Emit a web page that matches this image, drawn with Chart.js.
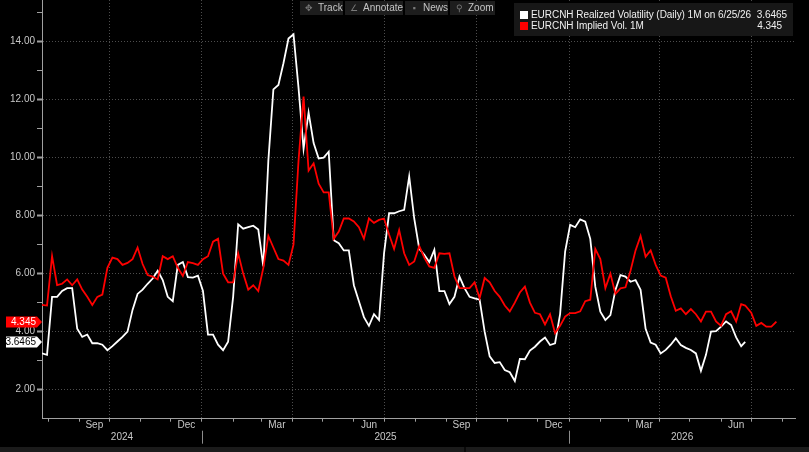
<!DOCTYPE html>
<html>
<head>
<meta charset="utf-8">
<title>EURCNH Volatility</title>
<script src="https://cdn.jsdelivr.net/npm/chart.js@4.4.1/dist/chart.umd.min.js"></script>
<style>
    html, body { margin: 0; padding: 0; background: #000; }
    #wrap { position: relative; width: 809px; height: 452px; overflow: hidden; background: #000;
            font-family: "Liberation Sans", Arial, sans-serif; }
    #volChart { position: absolute; left: 0; top: 0; }
    .btn { position: absolute; top: 1px; height: 14px; background: #1d1d1d; color: #c4c4c4;
           font-size: 10px; line-height: 14px; white-space: nowrap; }
    .btn i { font-style: normal; color: #7a7a7a; font-size: 9px; display: inline-block; width: 14px; text-align: center; margin: 0 2px 0 2px; }
    #legend { position: absolute; left: 514px; top: 3px; width: 279px; height: 33px; background: #171717;
              color: #f0f0f0; font-size: 10px; letter-spacing: -0.05px; }
    #legend .row { position: absolute; left: 0; right: 0; height: 11px; line-height: 11px; white-space: nowrap; }
    #legend .sq { position: absolute; left: 6px; top: 1.5px; width: 8px; height: 8px; }
    #legend .name { position: absolute; left: 17px; }
    #legend .val { position: absolute; }
    #scrollBar { position: absolute; left: 0; top: 447px; width: 809px; height: 5px; background: #1b1b1b; }
    #scrollBar div { position: absolute; left: 464px; top: 0; width: 2px; height: 5px; background: #0a0a0a; }
</style>
</head>
<body>
<div id="wrap">
    <canvas id="volChart" width="809" height="452"></canvas>
    <span class="btn" style="left:300px;width:43px"><i>✥</i>Track</span>
    <span class="btn" style="left:345px;width:58px"><i>∠</i>Annotate</span>
    <span class="btn" style="left:405px;width:43px"><i>▪</i>News</span>
    <span class="btn" style="left:450px;width:45px"><i>⚲</i>Zoom</span>
    <div id="legend"></div>
    <div id="scrollBar"><div></div></div>
</div>
<script>
// Stichtage (alle 5 Tage), letzter Wert der realisierten Vol am 25.06.2026
const dates = [
    "2024-07-26","2024-07-31","2024-08-05","2024-08-10","2024-08-15","2024-08-20","2024-08-25","2024-08-30",
    "2024-09-04","2024-09-09","2024-09-14","2024-09-19","2024-09-24","2024-09-29",
    "2024-10-04","2024-10-09","2024-10-14","2024-10-19","2024-10-24","2024-10-29",
    "2024-11-03","2024-11-08","2024-11-13","2024-11-18","2024-11-23","2024-11-28",
    "2024-12-03","2024-12-08","2024-12-13","2024-12-18","2024-12-23","2024-12-28",
    "2025-01-02","2025-01-07","2025-01-12","2025-01-17","2025-01-22","2025-01-27",
    "2025-02-01","2025-02-06","2025-02-11","2025-02-16","2025-02-21","2025-02-26",
    "2025-03-03","2025-03-08","2025-03-13","2025-03-18","2025-03-23","2025-03-28",
    "2025-04-02","2025-04-07","2025-04-12","2025-04-17","2025-04-22","2025-04-27",
    "2025-05-02","2025-05-07","2025-05-12","2025-05-17","2025-05-22","2025-05-27",
    "2025-06-01","2025-06-06","2025-06-11","2025-06-16","2025-06-21","2025-06-26",
    "2025-07-01","2025-07-06","2025-07-11","2025-07-16","2025-07-21","2025-07-26","2025-07-31",
    "2025-08-05","2025-08-10","2025-08-15","2025-08-20","2025-08-25","2025-08-30",
    "2025-09-04","2025-09-09","2025-09-14","2025-09-19","2025-09-24","2025-09-29",
    "2025-10-04","2025-10-09","2025-10-14","2025-10-19","2025-10-24","2025-10-29",
    "2025-11-03","2025-11-08","2025-11-13","2025-11-18","2025-11-23","2025-11-28",
    "2025-12-03","2025-12-08","2025-12-13","2025-12-18","2025-12-23","2025-12-28",
    "2026-01-02","2026-01-07","2026-01-12","2026-01-17","2026-01-22","2026-01-27",
    "2026-02-01","2026-02-06","2026-02-11","2026-02-16","2026-02-21","2026-02-26",
    "2026-03-03","2026-03-08","2026-03-13","2026-03-18","2026-03-23","2026-03-28",
    "2026-04-02","2026-04-07","2026-04-12","2026-04-17","2026-04-22","2026-04-27",
    "2026-05-02","2026-05-07","2026-05-12","2026-05-17","2026-05-22","2026-05-27",
    "2026-06-01","2026-06-06","2026-06-11","2026-06-16","2026-06-21","2026-06-25",
    "2026-07-01","2026-07-06","2026-07-11","2026-07-16","2026-07-21","2026-07-26"
];

// Realisierte Volatilität (Daily) 1M
const realizedVol = [
    3.25, 3.2, 5.2, 5.2, 5.4, 5.5, 5.5, 4.1, 3.82, 3.9,
    3.6, 3.6, 3.55, 3.36, 3.5, 3.66, 3.82, 4.0, 4.75, 5.3,
    5.45, 5.65, 5.83, 6.1, 5.78, 5.2, 5.05, 6.3, 6.4, 5.88,
    5.86, 5.93, 5.4, 3.9, 3.9, 3.55, 3.36, 3.65, 5.2, 7.7,
    7.55, 7.6, 7.65, 7.52, 6.25, 9.9, 12.35, 12.5, 13.25, 14.1,
    14.25, 12.4, 10.3, 11.55, 10.5, 9.97, 10.0, 10.2, 7.15, 7.05,
    6.8, 6.8, 5.6, 5.05, 4.5, 4.2, 4.6, 4.4, 6.7, 8.08,
    8.08, 8.15, 8.2, 9.35, 7.9, 6.85, 6.65, 6.4, 6.82, 5.4,
    5.4, 4.95, 5.2, 5.9, 5.5, 5.2, 5.15, 5.1, 4.0, 3.15,
    2.92, 2.95, 2.68, 2.6, 2.3, 3.06, 3.05, 3.35, 3.48, 3.66,
    3.8, 3.54, 3.6, 4.6, 6.76, 7.68, 7.6, 7.87, 7.79, 7.2,
    5.55, 4.69, 4.4, 4.57, 5.44, 5.95, 5.9, 5.72, 5.78, 5.44,
    4.1, 3.62, 3.55, 3.25, 3.37, 3.55, 3.77, 3.54, 3.44, 3.37,
    3.25, 2.65, 3.2, 4.0, 4.02, 4.17, 4.35, 4.23, 3.8, 3.5,
    3.6465
];

// Implizite Volatilität 1M
const impliedVol = [
    4.92, 4.9, 6.6, 5.6, 5.65, 5.8, 5.6, 5.8, 5.45, 5.2,
    4.92, 5.2, 5.28, 6.2, 6.55, 6.5, 6.3, 6.37, 6.5, 6.9,
    6.33, 5.95, 5.9, 5.8, 6.6, 6.5, 6.6, 6.2, 5.92, 6.4,
    6.36, 6.3, 6.5, 6.6, 7.1, 7.2, 6.0, 5.7, 5.7, 6.7,
    6.0, 5.45, 5.6, 5.4, 6.2, 7.3, 6.9, 6.5, 6.45, 6.3,
    7.0, 9.9, 12.1, 9.55, 9.8, 9.1, 8.8, 8.8, 7.2, 7.45,
    7.9, 7.9, 7.8, 7.6, 7.2, 7.9, 7.75, 7.85, 7.9, 7.35,
    6.85, 7.5, 6.7, 6.3, 6.42, 6.95, 6.55, 6.25, 6.2, 6.7,
    6.68, 6.7, 5.9, 5.5, 5.5, 5.5, 5.7, 5.15, 5.85, 5.7,
    5.4, 5.2, 4.9, 4.7, 5.0, 5.35, 5.55, 5.0, 4.65, 4.6,
    4.25, 4.6, 3.95, 4.2, 4.52, 4.64, 4.64, 4.7, 5.05, 5.1,
    6.85, 6.5, 5.5, 6.0, 5.3, 5.49, 5.53, 6.1, 6.8, 7.3,
    6.58, 6.8, 6.3, 5.93, 5.86, 5.22, 4.72, 4.8, 4.6, 4.78,
    4.6, 4.35, 4.69, 4.69, 4.35, 4.2, 4.6, 4.7, 4.35, 4.95,
    4.9, 4.65, 4.2, 4.3, 4.17, 4.17, 4.345
];

const seriesNames = ["EURCNH Realized Volatility (Daily) 1M", "EURCNH Implied Vol. 1M"];
const seriesColors = ["#ffffff", "#ff0000"];
const yTickValues = [2, 3, 4, 5, 6, 7, 8, 9, 10, 11, 12, 13, 14, 15];
const monthNames = ["Jan", "Feb", "Mar", "Apr", "May", "Jun", "Jul", "Aug", "Sep", "Oct", "Nov", "Dec"];
const labelMonths = ["Sep", "Dec", "Mar", "Jun"];
const yearLabels = ["2024", "2025", "2026"];

const FONT = "'Liberation Sans', Arial, sans-serif";
const dayMs = 86400000;

function toDay(s) {
    const p = s.split("-");
    return Date.UTC(+p[0], +p[1] - 1, +p[2]) / dayMs;
}

function toPoints(values) {
    return values.map((v, i) => ({ x: toDay(dates[i]), y: v }));
}

const xStart = toDay(dates[0]);
const xEnd = xStart + 748.5;

// Monatsanfänge (Striche) und Monatsmitten (Beschriftung)
function buildMonthTicks(scale) {
    const ticks = [];
    for (let y = 2024; y <= 2026; y++) {
        for (let m = 0; m < 12; m++) {
            const start = Date.UTC(y, m, 1) / dayMs;
            const next = Date.UTC(y, m + 1, 1) / dayMs;
            if (start >= scale.min && start <= scale.max) {
                ticks.push({ value: start, kind: "start", quarter: m % 3 === 0 });
            }
            const mid = (start + next) / 2;
            if (labelMonths.includes(monthNames[m]) && mid > scale.min && mid < scale.max) {
                ticks.push({ value: mid, kind: "mid", name: monthNames[m] });
            }
        }
    }
    ticks.sort((a, b) => a.value - b.value);
    scale.ticks = ticks;
}

// Jahreszeile und Endwert-Marken
const tagStyles = [
    { fill: "#ff0000", text: "#ffffff" },
    { fill: "#ffffff", text: "#000000" }
];

const axisExtras = {
    id: "axisExtras",
    afterDraw(chart) {
        const ctx = chart.ctx;
        const xs = chart.scales.x;
        const ys = chart.scales.y;
        ctx.save();
        ctx.font = "10px " + FONT;
        ctx.fillStyle = "#c8c8c8";
        ctx.strokeStyle = "#8c8c8c";
        ctx.lineWidth = 1;
        ctx.textAlign = "center";
        ctx.textBaseline = "middle";
        yearLabels.forEach(year => {
            const from = toDay(year + "-01-01");
            const to = toDay((+year + 1) + "-01-01");
            const a = Math.max(from, xs.min);
            const b = Math.min(to, xs.max);
            ctx.fillText(year, xs.getPixelForValue((a + b) / 2), xs.top + 19);
            if (from > xs.min) {
                const px = Math.round(xs.getPixelForValue(from)) + 0.5;
                ctx.beginPath();
                ctx.moveTo(px, xs.top + 12);
                ctx.lineTo(px, xs.top + 25);
                ctx.stroke();
            }
        });

        const tip = chart.chartArea.left;
        ctx.textAlign = "right";
        chart.data.datasets.forEach((ds, i) => {
            const last = ds.data[ds.data.length - 1];
            const y = Math.round(ys.getPixelForValue(last.y));
            ctx.fillStyle = tagStyles[i].fill;
            ctx.beginPath();
            ctx.moveTo(6, y - 5.5);
            ctx.lineTo(tip - 5, y - 5.5);
            ctx.lineTo(tip, y);
            ctx.lineTo(tip - 5, y + 5.5);
            ctx.lineTo(6, y + 5.5);
            ctx.closePath();
            ctx.fill();
            ctx.fillStyle = tagStyles[i].text;
            ctx.fillText(String(last.y), tip - 6, y + 0.5);
        });
        ctx.restore();
    }
};

// Legende mit letzten Werten
function buildLegend() {
    const p = dates[realizedVol.length - 1].split("-");
    const dateText = `${+p[1]}/${+p[2]}/${p[0].slice(2)}`;
    document.getElementById("legend").innerHTML = `
        <div class="row" style="top:6px">
            <span class="sq" style="background:${seriesColors[0]}"></span>
            <span class="name">${seriesNames[0]} on ${dateText}</span>
            <span class="val" style="right:6px">${realizedVol[realizedVol.length - 1]}</span>
        </div>
        <div class="row" style="top:17px">
            <span class="sq" style="background:${seriesColors[1]}"></span>
            <span class="name">${seriesNames[1]}</span>
            <span class="val" style="right:11px">${impliedVol[impliedVol.length - 1]}</span>
        </div>`;
}

Chart.defaults.font.family = FONT;

const volChart = new Chart(document.getElementById("volChart"), {
    type: "line",
    data: {
        datasets: [
            {
                label: seriesNames[1],
                data: toPoints(impliedVol),
                borderColor: seriesColors[1],
                borderWidth: 1.8,
                pointRadius: 0,
                tension: 0,
                order: 0
            },
            {
                label: seriesNames[0],
                data: toPoints(realizedVol),
                borderColor: seriesColors[0],
                borderWidth: 1.8,
                pointRadius: 0,
                tension: 0,
                order: 1
            }
        ]
    },
    options: {
        responsive: false,
        animation: false,
        devicePixelRatio: 1,
        events: [],
        layout: { padding: { left: 0, right: 14, top: 0, bottom: 0 } },
        plugins: { legend: { display: false }, tooltip: { enabled: false } },
        scales: {
            x: {
                type: "linear",
                min: xStart,
                max: xEnd,
                bounds: "data",
                afterBuildTicks: buildMonthTicks,
                afterFit: s => { s.height = 33.3; s.paddingLeft = 0; s.paddingRight = 0; },
                ticks: {
                    autoSkip: false,
                    maxRotation: 0,
                    padding: -2,
                    color: "#c8c8c8",
                    font: { size: 10 },
                    callback: (v, i, ticks) => ticks[i].name || ""
                },
                grid: {
                    color: c => (c.tick && c.tick.quarter) ? "#4d4d4d" : "transparent",
                    tickColor: c => (c.tick && c.tick.kind === "start") ? "#a0a0a0" : "transparent",
                    tickLength: 3,
                    lineWidth: 1
                },
                border: { color: "#a0a0a0", width: 1, dash: [1, 2] }
            },
            y: {
                min: 1,
                max: 15.43,
                bounds: "data",
                afterBuildTicks: s => { s.ticks = yTickValues.map(v => ({ value: v })); },
                afterFit: s => { s.width = 42; s.paddingTop = 0; s.paddingBottom = 0; },
                ticks: {
                    autoSkip: false,
                    padding: 2,
                    color: "#c8c8c8",
                    font: { size: 10 },
                    callback: v => v % 2 === 0 ? v.toFixed(2) : ""
                },
                grid: {
                    color: c => (c.tick && c.tick.value % 2 === 0) ? "#4d4d4d" : "transparent",
                    tickColor: "#a0a0a0",
                    tickWidth: c => (c.tick && c.tick.value % 2 === 0) ? 2 : 1,
                    tickLength: 5,
                    lineWidth: 1
                },
                border: { color: "#a0a0a0", width: 1, dash: [1, 2] }
            }
        }
    },
    plugins: [axisExtras]
});

buildLegend();
</script>
</body>
</html>
